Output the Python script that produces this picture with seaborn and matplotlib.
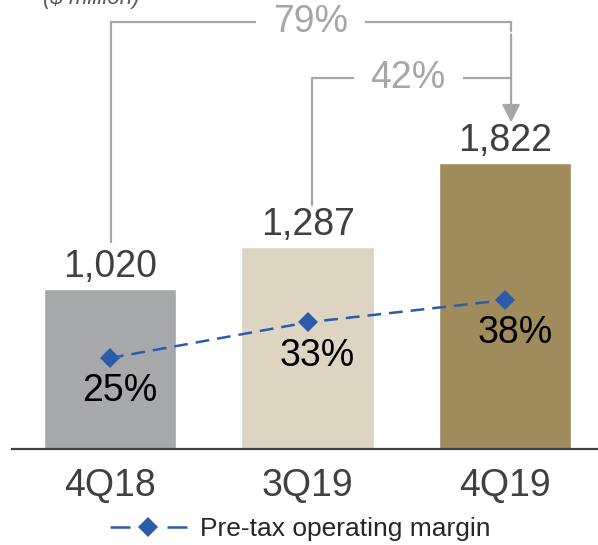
import numpy as np
import pandas as pd
import matplotlib
matplotlib.use("Agg")
import matplotlib.pyplot as plt
from matplotlib.lines import Line2D
import seaborn as sns

# ---- data ----
quarters = ["4Q18", "3Q19", "4Q19"]
income = [1020, 1287, 1822]
margin = [25, 33, 38]
growth_labels = ["79%", "42%"]
unit_label = "($ million)"
legend_label = "Pre-tax operating margin"
bar_colors = ["#A7A8AB", "#DDD5C1", "#A08B5C"]

sns.set_theme(style="white")
plt.rcParams["font.family"] = ["Liberation Sans", "DejaVu Sans"]

W, H = 598, 545
fig = plt.figure(figsize=(W / 100, H / 100), dpi=100)
ax = fig.add_axes([12 / W, 1 - 449 / H, 1 - 12 / W, 449 / H])

df = pd.DataFrame({"quarter": quarters, "income": income, "margin": margin})
sns.barplot(data=df, x="quarter", y="income", hue="quarter", palette=bar_colors,
            order=quarters, width=0.67, legend=False, ax=ax, saturation=1)

ax.set_xlim(-0.496, 2.47)
ax.set_ylim(0, 2860)
for s in ["top", "right", "left"]:
    ax.spines[s].set_visible(False)
ax.spines["bottom"].set_color("#404040")
ax.spines["bottom"].set_linewidth(1.6)
ax.set_yticks([])
ax.set_xlabel("")
ax.set_ylabel("")
pos = np.arange(len(quarters))
ax.set_xticks(pos, quarters)
ax.tick_params(axis="x", length=0, pad=14, labelsize=27, labelcolor="#404040")

# value labels
for i, v in enumerate(income):
    ax.annotate(f"{v:,}", (pos[i], v), xytext=(0, 3), textcoords="offset points",
                ha="center", va="bottom", fontsize=27, color="#404040")

# growth brackets
gcol = "#A6A6A6"
lvl1, lvl2 = 2720, 2363
x0, x1, x2 = pos[0] + 0.003, pos[1] + 0.023, pos[2] + 0.03
ax.plot([x0, x0, x2, x2], [income[0] + 300, lvl1, lvl1, lvl1 - 60],
        color=gcol, lw=1.6, solid_joinstyle="miter", zorder=3)
ax.annotate("", xy=(x2, income[2] + 258), xytext=(x2, lvl1 - 80),
            arrowprops=dict(arrowstyle="-|>,head_length=0.9,head_width=0.45",
                            color=gcol, lw=1.6, shrinkA=0, shrinkB=0), zorder=3)
ax.plot([x1, x1, x2], [income[1] + 270, lvl2, lvl2],
        color=gcol, lw=1.6, solid_joinstyle="miter", zorder=3)
bb = dict(boxstyle="square,pad=0.45", fc="white", ec="none")
ax.text(1.013, lvl1, growth_labels[0], ha="center", va="center", fontsize=27,
        color=gcol, bbox=bb, zorder=4)
ax.text(1.509, lvl2, growth_labels[1], ha="center", va="center", fontsize=27,
        color=gcol, bbox=bb, zorder=4)

# margin line on twin axis
ax2 = ax.twinx()
ax2.set_ylim(4.6, 105.3)
ax2.set_axis_off()
blue = "#2A5CAA"
sns.lineplot(x=pos, y=margin, ax=ax2, color=blue, lw=1.8, marker="D",
             markersize=10, markeredgewidth=0, dashes=False, zorder=5)
ax2.lines[0].set_dashes((5.5, 3.2))
for i, m in enumerate(margin):
    ax2.annotate(f"{m}%", (pos[i], m), xytext=(7, -24), textcoords="offset points",
                 ha="center", va="center", fontsize=27, color="black")
if ax2.get_legend():
    ax2.get_legend().remove()

# unit label (cut at top, as in the original)
fig.text(43 / W, 1 - 4 / H, unit_label, ha="left", va="baseline", fontsize=16,
         style="italic", color="#595959")

# legend
handle = Line2D([], [], color=blue, lw=1.8, marker="D", markersize=10,
                markeredgewidth=0, dashes=(8, 14.8))
fig.legend([handle], [legend_label], loc="center left",
           bbox_to_anchor=(110 / W, 1 - 529 / H), frameon=False, fontsize=19,
           handlelength=2.9, handletextpad=0.5, borderpad=0, borderaxespad=0)

fig.savefig("out.png", dpi=100)
